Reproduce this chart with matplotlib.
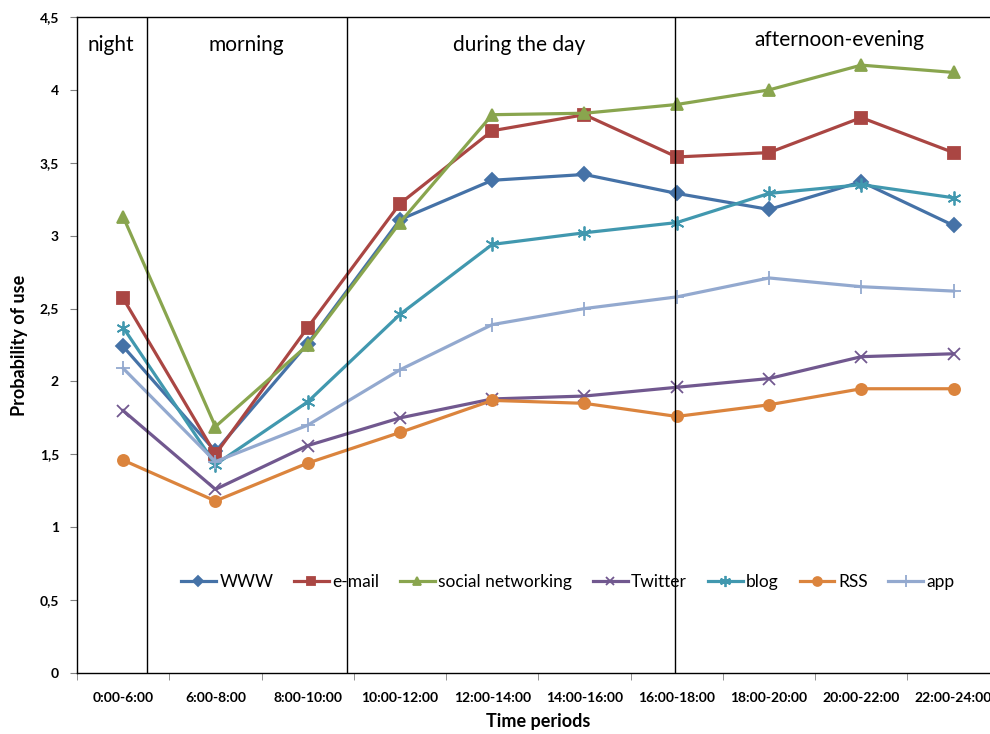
import matplotlib
matplotlib.use("Agg")
import matplotlib.pyplot as plt
from matplotlib.ticker import FixedLocator

plt.rcParams['font.family'] = ['Lato', 'DejaVu Sans']

periods = ["0:00-6:00", "6:00-8:00", "8:00-10:00", "10:00-12:00", "12:00-14:00",
           "14:00-16:00", "16:00-18:00", "18:00-20:00", "20:00-22:00", "22:00-24:00"]
www = [2.24, 1.52, 2.26, 3.11, 3.38, 3.42, 3.29, 3.18, 3.37, 3.07]
email = [2.57, 1.50, 2.37, 3.22, 3.72, 3.83, 3.54, 3.57, 3.81, 3.57]
social = [3.13, 1.69, 2.25, 3.09, 3.83, 3.84, 3.90, 4.00, 4.17, 4.12]
twitter = [1.80, 1.26, 1.56, 1.75, 1.88, 1.90, 1.96, 2.02, 2.17, 2.19]
blog = [2.37, 1.43, 1.86, 2.46, 2.94, 3.02, 3.09, 3.29, 3.35, 3.26]
rss = [1.46, 1.18, 1.44, 1.65, 1.87, 1.85, 1.76, 1.84, 1.95, 1.95]
app = [2.09, 1.45, 1.70, 2.08, 2.39, 2.50, 2.58, 2.71, 2.65, 2.62]
yticks = [0, 0.5, 1, 1.5, 2, 2.5, 3, 3.5, 4, 4.5]
ytick_labels = ["0", "0,5", "1", "1,5", "2", "2,5", "3", "3,5", "4", "4,5"]
regions = ["night", "morning", "during the day", "afternoon-evening"]

fig = plt.figure(figsize=(9.9, 7.34), dpi=100)
ax = fig.add_axes([0.0778, 0.0831, 0.932, 0.8937])

x = list(range(len(periods)))
series = [
    ("WWW", www, "#4572A7", "D", 7),
    ("e-mail", email, "#AA4643", "s", 8),
    ("social networking", social, "#89A54E", "^", 8),
    ("Twitter", twitter, "#71588F", "x", 8),
    ("blog", blog, "#4198AF", (6, 2, 0), 10),
    ("RSS", rss, "#DB843D", "o", 8),
    ("app", app, "#93A9CF", "+", 10),
]
for name, vals, col, mk, ms in series:
    ax.plot(x, vals, color=col, lw=2.3, marker=mk, markersize=ms,
            markeredgewidth=1.3, label=name)

# region separators
for xv in [0.26, 2.43, 5.98]:
    ax.axvline(xv, color="black", lw=1.0)

ax.text(-0.13, 4.31, regions[0], fontsize=15, ha="center", va="center")
ax.text(1.33, 4.31, regions[1], fontsize=15, ha="center", va="center")
ax.text(4.29, 4.31, regions[2], fontsize=15, ha="center", va="center")
ax.text(7.76, 4.34, regions[3], fontsize=15, ha="center", va="center")

ax.set_xlim(-0.5, 9.5)
ax.set_ylim(0, 4.5)
ax.set_yticks(yticks)
ax.set_yticklabels(ytick_labels, fontweight="bold", fontsize=10)
ax.set_xticks(x)
ax.set_xticklabels(periods, fontweight="bold", fontsize=10)
ax.xaxis.set_minor_locator(FixedLocator([i + 0.5 for i in range(-1, 10)]))
ax.tick_params(axis="x", which="major", length=0, pad=14)
ax.tick_params(axis="x", which="minor", length=5, color="#808080")
ax.tick_params(axis="y", length=5, color="#808080", pad=8)
for s in ax.spines.values():
    s.set_color("black")
    s.set_linewidth(1.0)

ax.set_ylabel("Probability of use", fontsize=13, fontweight="bold", labelpad=8)
ax.set_xlabel("Time periods", fontsize=13, fontweight="bold", labelpad=6)

ax.legend(loc="center", bbox_to_anchor=(0.532, 0.1385), ncol=7, frameon=False,
          fontsize=12.5, handlelength=2.0, handletextpad=0.2, columnspacing=1.2,
          markerscale=0.8)

fig.savefig("out.png", dpi=100)
